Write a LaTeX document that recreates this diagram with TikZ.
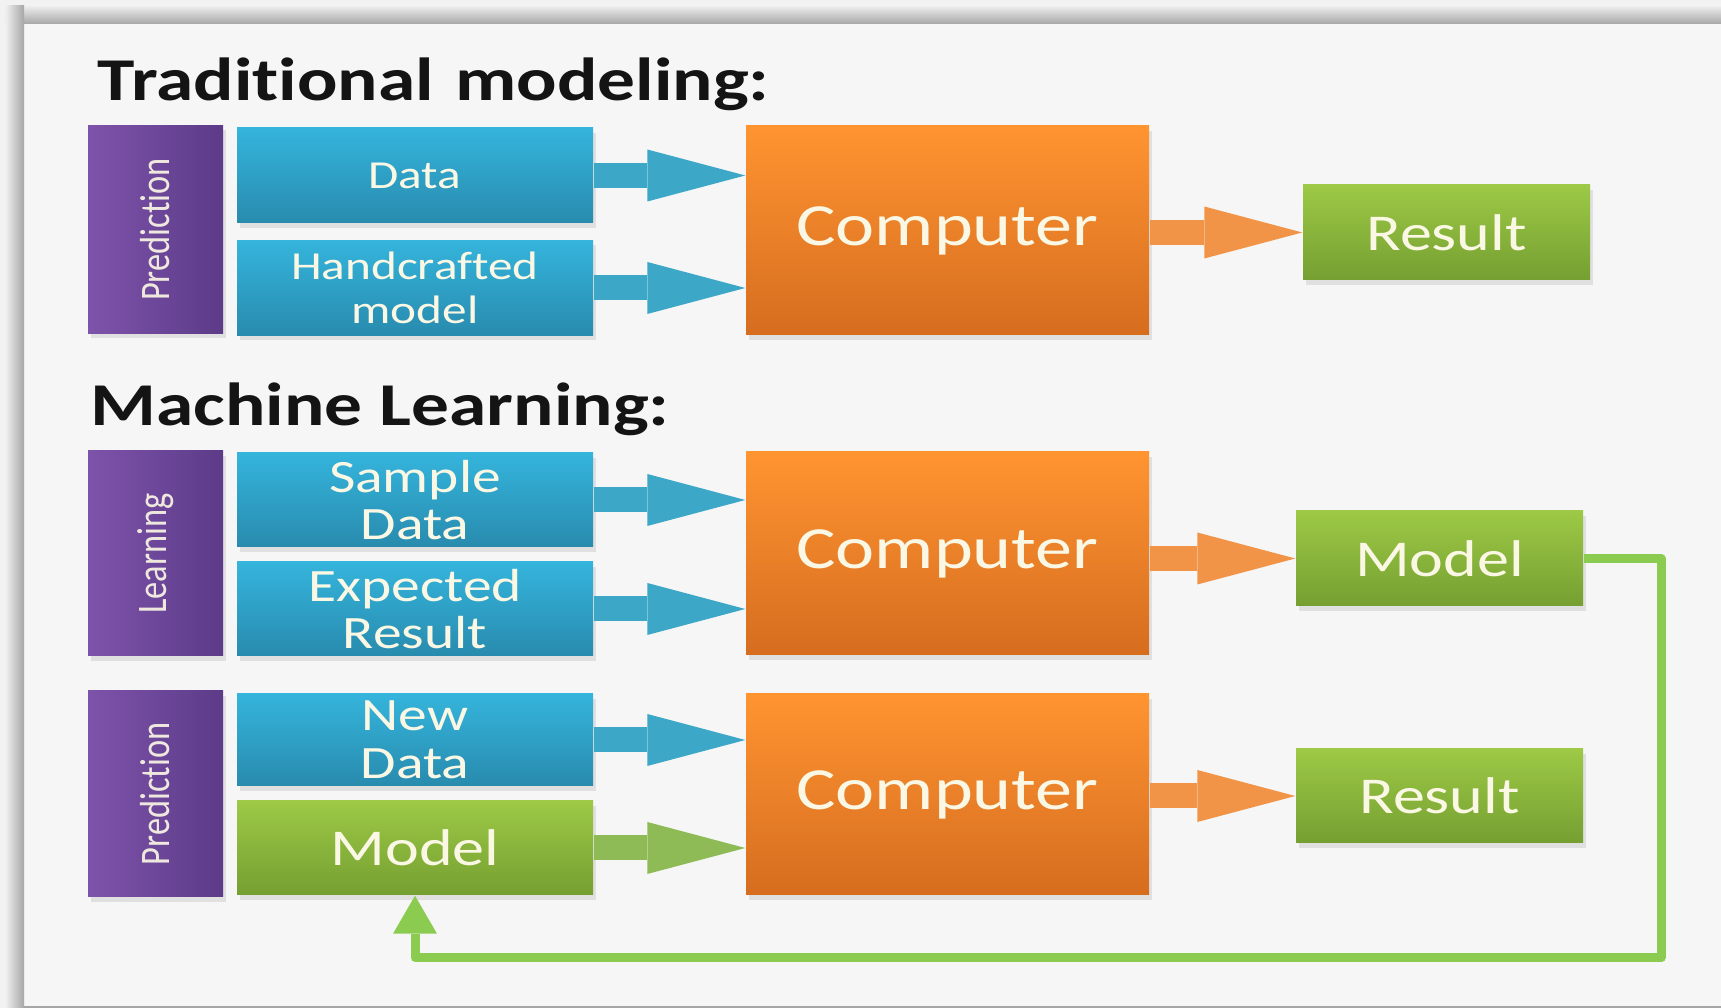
\documentclass[tikz,border=0pt]{standalone}
\usepackage{fontspec}
\setmainfont{Carlito}[FakeStretch=1.24, Ligatures={CommonOff, ContextualOff}]
\newfontfamily\sidefont{Carlito}[Ligatures={CommonOff, ContextualOff}]
\usepackage{graphicx}
\usepackage{xcolor}
\usepackage{tikz}
\usetikzlibrary{arrows.meta, shadows}

\definecolor{paper}{HTML}{F6F6F6}
\definecolor{rimlight}{HTML}{EEEEEE}
\definecolor{rimdark}{HTML}{A6A6A6}
\definecolor{boxtext}{HTML}{FAF8E4}
\definecolor{bluetop}{HTML}{35B4DC}
\definecolor{bluebot}{HTML}{288BAE}
\definecolor{orangetop}{HTML}{FF9431}
\definecolor{orangebot}{HTML}{D66D1F}
\definecolor{greentop}{HTML}{9DC946}
\definecolor{greenbot}{HTML}{759F31}
\definecolor{purpleleft}{HTML}{7E53AB}
\definecolor{purpleright}{HTML}{5C3B88}
\definecolor{arrowblue}{HTML}{3CA7C7}
\definecolor{arroworange}{HTML}{F29448}
\definecolor{arrowgreen}{HTML}{8EBB55}
\definecolor{backgreen}{HTML}{8BCB4F}

% rotated side label, taller glyphs like the rest of the text
\newcommand{\sidelabel}[1]{\rotatebox{90}{\scalebox{1}[1.22]{#1}}}

\begin{document}
\begin{tikzpicture}[every node/.style={inner sep=1.5pt, text=boxtext},
  boxbase/.style={rectangle, align=center, drop shadow={shadow xshift=0.3mm, shadow yshift=-0.5mm, opacity=0.18}},
  stage/.style={boxbase, minimum width=1.35cm, minimum height=2.08cm, left color=purpleleft, right color=purpleright, font=\sidefont\fontsize{9.8}{10}\selectfont, text=boxtext!90!purpleleft},
  inbox/.style={boxbase, minimum width=3.56cm, minimum height=0.95cm, top color=bluetop, bottom color=bluebot},
  cpu/.style={boxbase, minimum width=4.03cm, minimum height=2.06cm, top color=orangetop, bottom color=orangebot, font=\fontsize{17}{18}\selectfont},
  outbox/.style={boxbase, minimum width=2.87cm, minimum height=0.95cm, top color=greentop, bottom color=greenbot, font=\fontsize{14.7}{15}\selectfont},
  heading/.style={anchor=base west, inner sep=0pt, text=black!92, font=\fontsize{17.3}{18}\selectfont\bfseries},
  flowblue/.style={draw=arrowblue, line width=2.5mm, -{Triangle[length=9.8mm, width=5.2mm, line width=0pt]}},
  floworange/.style={flowblue, draw=arroworange},
  flowgreen/.style={flowblue, draw=arrowgreen},
  backline/.style={draw=backgreen, line width=0.9mm, line join=round, -{Triangle[length=3.8mm, width=4.4mm, line width=0pt]}}]
  \useasboundingbox (0,0) rectangle (17.21,10.08);

  % sheet with its grey rim along the top and left
  \fill[black!5] (0,0) rectangle (17.21,10.08);
  \fill[paper] (0.24,0) rectangle (17.21,9.84);
  \shade[top color=rimlight, bottom color=rimdark] (0.06,9.84) rectangle (17.21,10.02);
  \shade[left color=rimlight, right color=rimdark] (0.06,0) rectangle (0.24,10.02);
  \fill[rimdark] (0.24,0) rectangle (17.21,0.02);

  % traditional modeling
  \node[heading] (head1) at (0.97,9.07) {Traditional\hspace{0.35em}modeling:};
  \node[stage] (pred1) at (1.555,7.785) {\sidelabel{Prediction}};
  \node[inbox, font=\fontsize{11.3}{12.5}\selectfont] (data) at (4.15,8.325) {Data};
  \node[inbox, font=\fontsize{11.3}{12.5}\selectfont] (hand) at (4.15,7.20) {Handcrafted\\model};
  \node[cpu, minimum height=2.09cm] (comp1) at (9.475,7.775) {Computer};
  \node[outbox] (res1) at (14.465,7.755) {Result};
  \draw[flowblue] (data.east) -- (data.east -| comp1.west);
  \draw[flowblue] (hand.east) -- (hand.east -| comp1.west);
  \draw[floworange] (comp1.east |- res1.west) -- (res1.west);

  % machine learning: learning stage
  \node[heading] (head2) at (0.90,5.82) {Machine Learning:};
  \node[stage, minimum height=2.05cm] (learn) at (1.555,4.545) {\sidelabel{Learning}};
  \node[inbox, minimum height=0.94cm, font=\fontsize{13.2}{13.6}\selectfont] (sample) at (4.15,5.08) {Sample\\Data};
  \node[inbox, minimum height=0.94cm, font=\fontsize{13.2}{13.6}\selectfont] (expect) at (4.15,3.99) {Expected\\Result};
  \node[cpu, minimum height=2.03cm] (comp2) at (9.475,4.545) {Computer};
  \node[outbox] (model1) at (14.395,4.495) {Model};
  \draw[flowblue] (sample.east) -- (sample.east -| comp2.west);
  \draw[flowblue] (expect.east) -- (expect.east -| comp2.west);
  \draw[floworange] (comp2.east |- model1.west) -- (model1.west);

  % machine learning: prediction stage
  \node[stage, minimum height=2.06cm] (pred2) at (1.555,2.14) {\sidelabel{Prediction}};
  \node[inbox, minimum height=0.92cm, font=\fontsize{13.2}{13.6}\selectfont] (newdata) at (4.15,2.68) {New\\Data};
  \node[outbox, minimum width=3.56cm, minimum height=0.94cm] (model2) at (4.15,1.60) {Model};
  \node[cpu, minimum height=2.01cm] (comp3) at (9.475,2.135) {Computer};
  \node[outbox, minimum height=0.94cm] (res2) at (14.395,2.12) {Result};
  \draw[flowblue] (newdata.east) -- (newdata.east -| comp3.west);
  \draw[flowgreen] (model2.east) -- (model2.east -| comp3.west);
  \draw[floworange] (comp3.east |- res2.west) -- (res2.west);

  % trained model fed back into prediction
  \coordinate (turn) at (16.61,0.50);
  \draw[backline] (model1.east) -| (turn) -| (model2.south);
\end{tikzpicture}
\end{document}
